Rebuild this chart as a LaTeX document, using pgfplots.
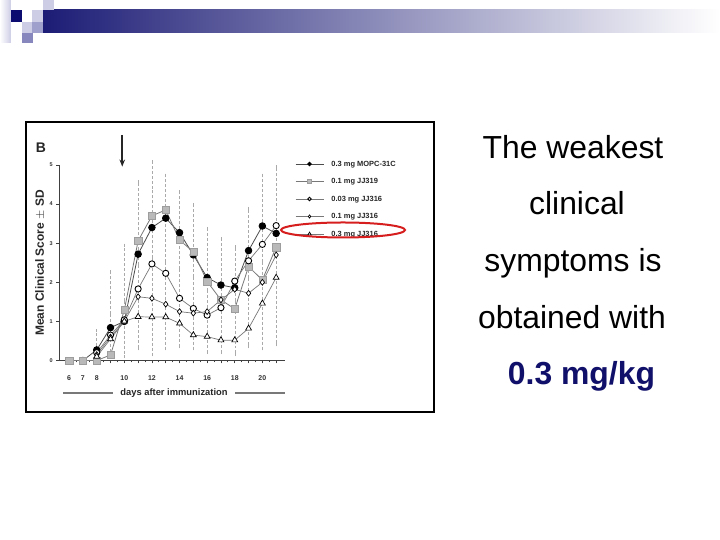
\documentclass[border=0pt]{standalone}
\usepackage{fontspec}
\setmainfont{Liberation Sans}
\usepackage{pgfplots}
\pgfplotsset{compat=1.18}
\usetikzlibrary{arrows.meta}
\definecolor{barnavy}{RGB}{28,28,118}
\definecolor{navy}{RGB}{12,12,112}
\definecolor{txtnavy}{RGB}{16,16,106}
\definecolor{lav1}{RGB}{205,205,230}
\definecolor{lav2}{RGB}{160,160,205}
\definecolor{lav3}{RGB}{135,135,190}
\definecolor{sqgray}{RGB}{185,185,185}
\definecolor{linegray}{RGB}{120,120,120}
\definecolor{errgray}{RGB}{170,170,170}
\definecolor{ellred}{RGB}{215,30,30}

\begin{document}
\begin{tikzpicture}[x=1bp,y=1bp]
  \fill[white] (0,0) rectangle (720,540);
  \useasboundingbox (0,0) rectangle (720,540);

  % slide header decoration
  \shade[left color=white, right color=lav1] (0,497) rectangle (10.8,540);
  \shade[left color=barnavy, middle color=barnavy!32!white, right color=white] (43,507) rectangle (720,530);
  \fill[navy] (10.5,518) rectangle (22,530);
  \fill[lav1] (43,530) rectangle (53.5,540);
  \fill[lav1] (32,518) rectangle (43,530);
  \fill[lav1] (22,507) rectangle (32,518);
  \fill[lav2] (32,507) rectangle (43,518);
  \fill[lav3] (21.5,497) rectangle (32.5,507);

  % box round the figure
  \draw[line width=2bp] (26,128) rectangle (434,418);

  \node[font=\fontsize{14}{16}\selectfont\bfseries, text=black!85] at (41,392) {B};
  \node[rotate=90, font=\fontsize{12}{14}\selectfont\bfseries, text=black!85] at (40,277) {Mean Clinical Score $\pm$ SD};
  \node[font=\fontsize{9.4}{11}\selectfont\bfseries, text=black!85] at (174,146.7) {days after immunization};
  \draw[linegray, line width=1.6bp] (63.3,146.7) -- (113.3,146.7);
  \draw[linegray, line width=1.6bp] (235,146.7) -- (285,146.7);

  \begin{axis}[
    at={(59.3bp,179.5bp)}, anchor=south west,
    scale only axis, width=225.7bp, height=195.5bp,
    xmin=5.29, xmax=21.64, ymin=0, ymax=5,
    axis lines*=left, clip=false,
    axis line style={black!75, line width=1.2bp},
    xtick={6,...,21},
    xticklabels={6,7,8,,10,,12,,14,,16,,18,,20,},
    minor x tick num=1,
    ytick={0,1,2,3,4,5},
    tick align=outside,
    major tick length=3bp, minor tick length=2bp,
    every tick/.style={black!75, line width=0.8bp},
    /pgf/number format/assume math mode=true,
    xticklabel style={font=\fontsize{7}{8}\selectfont\bfseries, text=black!80, yshift=-9bp},
    yticklabel style={font=\fontsize{5.5}{6}\selectfont\bfseries, text=black!80},
    legend style={at={(1.044,1.028)}, anchor=north west, draw=none, fill=none,
      inner sep=0pt, font=\fontsize{7.5}{9}\selectfont\bfseries, text=black!85,
      row sep=9bp,
      nodes={inner sep=0.5bp, text height=6bp, text depth=1.5bp},
      /tikz/every odd column/.append style={column sep=7bp}},
    legend cell align=left,
    legend image code/.code={
      \draw[mark repeat=2, mark phase=2, every mark/.append style={scale=0.55}]
        plot coordinates {(0bp,0bp) (14bp,0bp) (28bp,0bp)};},
  ]
    % spread of the scores (dashed SD bars)
    \addplot[draw=none, forget plot,
      error bars/.cd, y dir=both, y explicit,
      error bar style={errgray, densely dashed, line width=0.5bp},
      error mark options={errgray, solid, mark size=1.5bp, line width=0.5bp}]
      coordinates {
        (8,0.38)   +- (0,0.38)
        (9,1.185)  +- (0,1.085)
        (10,1.525) +- (0,1.425)
        (11,2.435) +- (0,2.135)
        (12,2.615) +- (0,2.465)
        (13,2.52)  +- (0,2.22)
        (14,2.335) +- (0,1.985)
        (15,2.14)  +- (0,1.84)
        (16,1.79)  +- (0,1.59)
        (17,1.66)  +- (0,1.46)
        (18,1.53)  +- (0,1.38)
        (19,2.12)  +- (0,1.77)
        (20,2.52)  +- (0,2.22)
        (21,2.68)  +- (0,2.28)
      };

    \addplot[black!70, line width=0.8bp, mark=*, mark size=3.3bp,
      mark options={solid, fill=black, draw=black}]
      coordinates {(7,0) (8,0.27) (9,0.84) (10,1.0) (11,2.72) (12,3.40) (13,3.64)
        (14,3.27) (15,2.70) (16,2.12) (17,1.93) (18,1.86) (19,2.81) (20,3.44) (21,3.25)};
    \addlegendentry{0.3 mg MOPC-31C}

    \addplot[linegray, line width=0.8bp, mark=square*, mark size=3.6bp,
      mark options={solid, fill=sqgray, draw=sqgray!85!black, line width=0.4bp}]
      coordinates {(6,0) (7,0) (8,0) (9,0.14) (10,1.29) (11,3.06) (12,3.70) (13,3.85)
        (14,3.08) (15,2.78) (16,2.02) (17,1.55) (18,1.32) (19,2.40) (20,2.06) (21,2.90)};
    \addlegendentry{0.1 mg JJ319}

    \addplot[linegray, line width=0.7bp, mark=*, mark size=3.1bp,
      mark options={solid, fill=white, draw=black, line width=0.9bp}]
      coordinates {(8,0.2) (9,0.65) (10,1.04) (11,1.83) (12,2.47) (13,2.23) (14,1.59)
        (15,1.33) (16,1.16) (17,1.35) (18,2.03) (19,2.55) (20,2.97) (21,3.45)};
    \addlegendentry{0.03 mg JJ316}

    \addplot[linegray, line width=0.7bp, mark=diamond*, mark size=2.9bp,
      mark options={solid, fill=white, draw=black, line width=0.7bp}]
      coordinates {(8,0.15) (9,0.6) (10,1.0) (11,1.63) (12,1.59) (13,1.44) (14,1.25)
        (15,1.21) (16,1.25) (17,1.55) (18,1.82) (19,1.72) (20,2.0) (21,2.7)};
    \addlegendentry{0.1 mg JJ316}

    \addplot[linegray, line width=0.7bp, mark=triangle*, mark size=3.4bp,
      mark options={solid, fill=white, draw=black, line width=0.7bp}]
      coordinates {(8,0.1) (9,0.55) (10,1.0) (11,1.12) (12,1.11) (13,1.11) (14,0.95)
        (15,0.65) (16,0.61) (17,0.52) (18,0.52) (19,0.82) (20,1.46) (21,2.12)};
    \addlegendentry{0.3 mg JJ316}

    % injection day
    \draw[-{Stealth[length=7bp,width=5.5bp]}, line width=1.8bp, black!85]
      (axis cs:9.85,5.77) -- (axis cs:9.85,4.96);
  \end{axis}

  % highlight of the lowest dose row of the legend
  \draw[ellred, line width=2bp] (343,310) ellipse [x radius=62, y radius=7.5];

  % slide text
  \begin{scope}[every node/.style={anchor=base, font=\fontsize{32}{38}\selectfont}]
    \node at (573,381.5) {The weakest};
    \node at (577,325) {clinical};
    \node at (573,268.3) {symptoms is};
    \node at (572,211.7) {obtained with};
    \node[text=txtnavy, font=\fontsize{32}{38}\selectfont\bfseries] at (581.5,155) {0.3 mg/kg};
  \end{scope}
\end{tikzpicture}
\end{document}
